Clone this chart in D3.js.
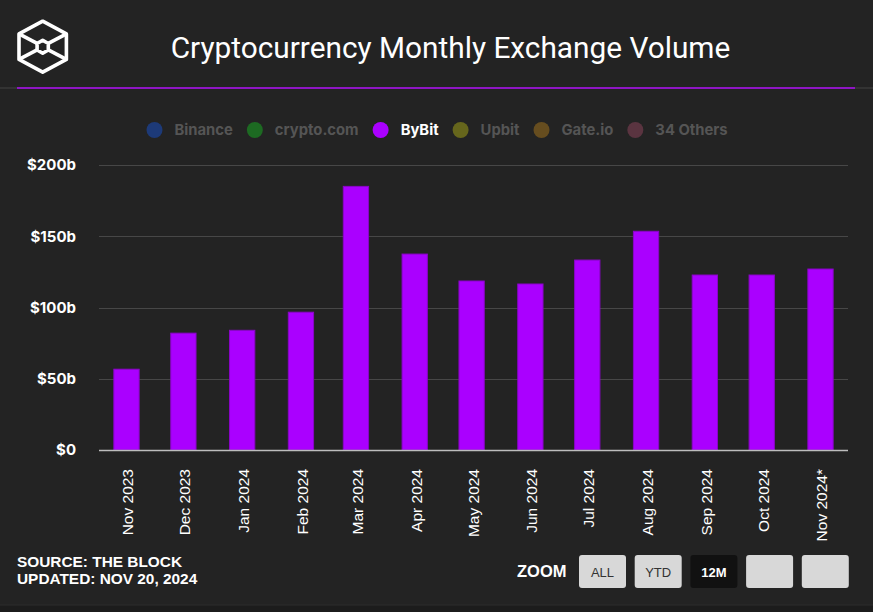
<!DOCTYPE html>
<html>
<head>
<meta charset="utf-8">
<script src="https://cdn.jsdelivr.net/npm/d3@7/dist/d3.min.js"></script>
<style>
  html, body { margin: 0; padding: 0; background: #232323; }
  svg { display: block; }
</style>
</head>
<body>
<svg id="chart" width="873" height="612"></svg>
<script>
// ---- data ----
const months = ["Nov 2023","Dec 2023","Jan 2024","Feb 2024","Mar 2024","Apr 2024","May 2024","Jun 2024","Jul 2024","Aug 2024","Sep 2024","Oct 2024","Nov 2024"];
const monthLabels = ["Nov 2023","Dec 2023","Jan 2024","Feb 2024","Mar 2024","Apr 2024","May 2024","Jun 2024","Jul 2024","Aug 2024","Sep 2024","Oct 2024","Nov 2024*"];
const bybitVolume = [56.7, 82, 84, 96.7, 185, 137.5, 118.6, 116.5, 133.3, 153.5, 122.8, 122.8, 127];
const legendNames = ["Binance","crypto.com","ByBit","Upbit","Gate.io","34 Others"];
const legendColors = ["#1d3a78","#1d6a22","#aa00ff","#66661c","#664d1f","#5a3440"];
const legendActive = [false,false,true,false,false,false];
const yTicks = [0, 50, 100, 150, 200];
const yTickLabels = ["$0","$50b","$100b","$150b","$200b"];
const title = "Cryptocurrency Monthly Exchange Volume";
const sourceLines = ["SOURCE: THE BLOCK","UPDATED: NOV 20, 2024"];
const zoomButtons = ["ALL","YTD","12M","",""];

const svg = d3.select("#chart");
const W = 873, H = 612;
svg.append("rect").attr("width", W).attr("height", H).attr("fill", "#232323");

// ---- header ----
const logo = svg.append("g").attr("fill","none").attr("stroke","#fff").attr("stroke-width",3.6).attr("stroke-linejoin","round");
const cx = 42.7, cy = 46.7, R = 25.5, rx = 23.7;
const hexPts = [[cx,cy-R],[cx+rx,cy-R/2],[cx+rx,cy+R/2],[cx,cy+R],[cx-rx,cy+R/2],[cx-rx,cy-R/2]];
logo.append("path").attr("d", d3.line()(hexPts)+"Z");
const r2 = 6.5, rx2 = 5.6;
const inner = [[cx,cy-r2],[cx+rx2,cy-r2/2],[cx+rx2,cy+r2/2],[cx,cy+r2],[cx-rx2,cy+r2/2],[cx-rx2,cy-r2/2]];
logo.append("path").attr("d", d3.line()(inner)+"Z");
logo.append("path").attr("d", d3.line()([hexPts[5], inner[5]]));
logo.append("path").attr("d", d3.line()([hexPts[1], inner[1]]));
logo.append("path").attr("d", d3.line()([hexPts[4], inner[4]]));
logo.append("path").attr("d", d3.line()([hexPts[2], inner[2]]));

svg.append("text").attr("x", 450.5).attr("y", 58).attr("text-anchor","middle")
  .attr("fill","#fff").attr("font-family","Roboto, sans-serif").attr("font-size",29.8)
  .text(title);

svg.append("rect").attr("x",0).attr("y",87).attr("width",W).attr("height",2).attr("fill","#333");
svg.append("rect").attr("x",17).attr("y",87).attr("width",838).attr("height",2).attr("fill","#8e16c4");

// ---- legend ----
const leg = svg.append("g").attr("font-family","Inter, sans-serif").attr("font-weight",700).attr("font-size",14.8);
let lx = 154.5;
legendNames.forEach((n,i) => {
  leg.append("circle").attr("cx", lx).attr("cy", 130).attr("r", 8).attr("fill", legendColors[i]);
  const t = leg.append("text").attr("x", lx + 20).attr("y", 130).attr("dy","0.35em")
    .attr("fill", legendActive[i] ? "#ffffff" : "#555555").text(n);
  lx = lx + 20 + t.node().getComputedTextLength() + 22;
});

// ---- scales ----
const parse = d3.timeParse("%b %Y");
const dates = months.map(parse);
const minGap = d3.min(d3.pairs(dates), ([a,b]) => b - a);
const pad = minGap / 2;
const x = d3.scaleTime()
  .domain([new Date(+dates[0] - pad), new Date(+dates[dates.length-1] + pad)])
  .range([99, 848]);
const y = d3.scaleLinear().domain([0, 200]).range([450, 165]);
const barW = (x(new Date(+dates[0] + minGap)) - x(dates[0])) * 0.46;

// gridlines
svg.append("g").selectAll("line").data(yTicks.filter(d => d > 0)).join("line")
  .attr("x1", 99).attr("x2", 848)
  .attr("y1", d => Math.round(y(d)) + 0.5).attr("y2", d => Math.round(y(d)) + 0.5)
  .attr("stroke", "#474747").attr("stroke-width", 1);

// y labels
svg.append("g").attr("font-family","Inter, sans-serif").attr("font-weight",700).attr("font-size",15)
  .selectAll("text").data(yTicks).join("text")
  .attr("x", 76).attr("y", d => y(d)).attr("dy","0.35em").attr("text-anchor","end")
  .attr("fill","#fff").text((d,i) => yTickLabels[i]);

// bars
svg.append("g").selectAll("rect").data(bybitVolume).join("rect")
  .attr("x", (d,i) => x(dates[i]) - barW/2)
  .attr("y", d => y(d))
  .attr("width", barW)
  .attr("height", d => y(0) - y(d))
  .attr("fill", "#aa00ff")
  .attr("stroke", "#8a05c8").attr("stroke-width", 1);

// x axis
const xAxis = d3.axisBottom(x).tickValues(dates).tickSize(0)
  .tickFormat((d,i) => monthLabels[i]);
const gx = svg.append("g").attr("transform","translate(0,450)").call(xAxis);
gx.select(".domain").attr("stroke","#bdbdbd").attr("stroke-width",1.5).attr("d","M99,0.5H848");
gx.selectAll("text")
  .attr("transform","rotate(-90)")
  .attr("x", -19).attr("y", 1).attr("dy","0.35em")
  .attr("text-anchor","end")
  .attr("fill","#fff")
  .attr("font-family","'Liberation Sans', Arial, sans-serif")
  .attr("font-size", 15.5);

// ---- footer ----
const foot = svg.append("g").attr("font-family","'Liberation Sans', Arial, sans-serif").attr("font-weight",700).attr("fill","#fff").attr("font-size",15.4);
sourceLines.forEach((s,i) => {
  foot.append("text").attr("x",17).attr("y", 567 + i*17).attr("fill","#fff").text(s);
});
foot.append("text").attr("x",517).attr("y",577).attr("fill","#fff").attr("font-size",16.5).text("ZOOM");
zoomButtons.forEach((b,i) => {
  const bx = 579 + i*55.7;
  const active = b === "12M";
  foot.append("rect").attr("x", bx).attr("y", 555).attr("width", 47).attr("height", 33).attr("rx", 3)
    .attr("fill", active ? "#111111" : "#d8d8d8");
  if (b) foot.append("text").attr("x", bx + 23.5).attr("y", 577).attr("text-anchor","middle")
    .attr("font-size", 13).attr("font-weight", active ? 700 : 400)
    .attr("fill", active ? "#fff" : "#333").text(b);
});
svg.append("rect").attr("x",0).attr("y",605).attr("width",W).attr("height",7).attr("fill","#1c1c1c");
svg.append("line").attr("x1",0).attr("x2",W).attr("y1",605).attr("y2",605).attr("stroke","#2c2c2c");
</script>
</body>
</html>
